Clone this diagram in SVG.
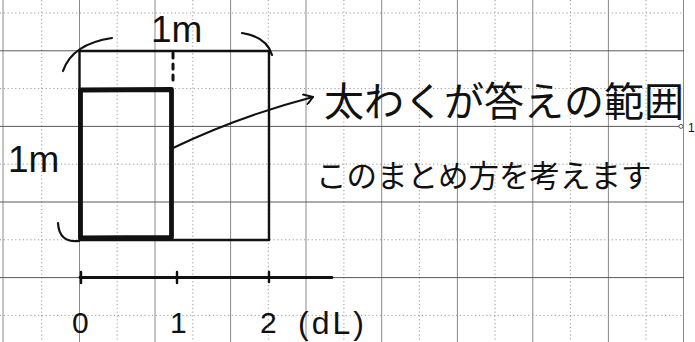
<svg xmlns="http://www.w3.org/2000/svg" width="695" height="342" viewBox="0 0 695 342">
  <style>
    .gh { stroke: #5a5a5a; stroke-width: 1; fill: none; }
    .gv { stroke: #8a8a8a; stroke-width: 1; fill: none; }
    .gd { stroke: #9a9a9a; stroke-width: 1; stroke-dasharray: 1.2 2.6; fill: none; }
    .ink { stroke: #111; fill: none; stroke-linecap: round; stroke-linejoin: round; }
    .hand { font-family: "Liberation Sans", "Noto Sans CJK JP", sans-serif; fill: #111; }
    .jp { font-family: "Noto Sans CJK JP", sans-serif; fill: #111; }
  </style>
  <defs>
    <marker id="chev" viewBox="0 0 12 12" refX="10" refY="6" markerWidth="12" markerHeight="12" markerUnits="userSpaceOnUse" orient="auto">
      <path d="M1 1 L10 6 L3 11.5" stroke="#111" stroke-width="2" fill="none" stroke-linecap="round" stroke-linejoin="round"/>
    </marker>
  </defs>
  <rect width="695" height="342" fill="#fff"/>
  <g id="grid">
    <path class="gd" d="M0 13H684 M0 88.6H684 M0 164.2H684 M0 239.8H684 M0 315.4H684"/>
    <path class="gd" d="M41.7 0V342 M117.2 0V342 M192.8 0V342 M268.3 0V342 M343.9 0V342 M419.4 0V342 M495 0V342 M570.4 0V342 M646 0V342"/>
    <path class="gv" d="M3 0V342 M79.5 0V342 M155 0V342 M230.6 0V342 M306 0V342 M381.7 0V342 M457.4 0V342 M532.8 0V342 M608.4 0V342 M683.5 0V342"/>
    <path class="gh" d="M0 50.8H684 M0 126.4H679 M0 202H684 M0 277.6H684"/>
    <circle cx="681" cy="126.4" r="2" fill="#fff" stroke="#555" stroke-width="1"/>
    <text x="688" y="132" class="hand" font-size="12" fill="#555">1</text>
  </g>
  <g id="outer-rect">
    <rect x="79.5" y="51" width="189.5" height="189" class="ink" stroke-width="2.4"/>
    <path class="ink" stroke-width="3" stroke-dasharray="5 6" d="M173 53V83"/>
  </g>
  <g id="answer-rect">
    <path class="ink" stroke-width="4.8" d="M80.5 90 L171.5 89.5 L171.5 237.5 L80.5 238 Z"/>
  </g>
  <g id="braces">
    <path class="ink" stroke-width="2.2" d="M63 71 Q72 44 112 38"/>
    <path class="ink" stroke-width="2.2" d="M242 33 Q267 37 272 55"/>
    <path class="ink" stroke-width="2.2" d="M58 223 Q59 243 79 241"/>
  </g>
  <g id="dim-labels">
    <text x="151" y="42" class="hand" font-size="37">1m</text>
    <text x="8" y="172" class="hand" font-size="37">1m</text>
  </g>
  <g id="axis">
    <path class="ink" stroke-width="2.8" d="M80 277.5H332"/>
    <path class="ink" stroke-width="2.4" d="M81 272V283 M177 272V283 M269 272V282"/>
    <text x="72" y="333" class="hand" font-size="30">0</text>
    <text x="170" y="333" class="hand" font-size="30">1</text>
    <text x="260" y="333" class="hand" font-size="30">2</text>
    <text x="298" y="334" class="hand" font-size="32" letter-spacing="3">(dL)</text>
  </g>
  <g id="connectors">
    <path class="ink" stroke-width="2" d="M173 148 Q240 116 313 97" marker-end="url(#chev)"/>
  </g>
  <g id="note">
    <text x="324" y="116" class="jp" font-size="40">太わくが答えの範囲</text>
    <text x="316" y="187" class="jp" font-size="30.5">このまとめ方を考えます</text>
  </g>
</svg>
